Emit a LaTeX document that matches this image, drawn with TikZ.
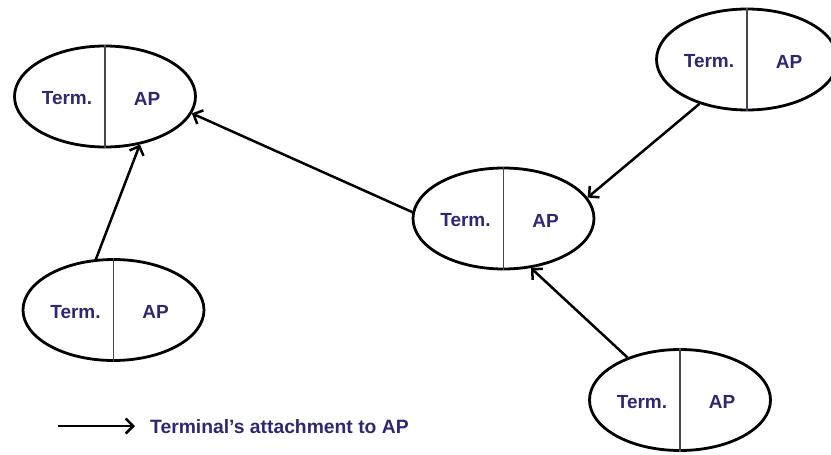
\documentclass[tikz,border=0pt]{standalone}
\usepackage{fontspec}
\setmainfont{Liberation Sans}
\usetikzlibrary{shapes.geometric,arrows.meta}
\definecolor{navy}{RGB}{46,40,110}
\definecolor{divgray}{RGB}{70,70,85}
\begin{document}
\begin{tikzpicture}[x=1pt,y=-1pt,
  cell/.style={ellipse, draw, line width=2.8pt, minimum width=181pt, minimum height=101pt, inner sep=0pt},
  lbl/.style={text=navy, font=\bfseries\fontsize{19}{21}\selectfont, inner sep=0pt},
  divline/.style={draw=divgray, line width=1.3pt},
  link/.style={-{Straight Barb[length=7.5pt,width=15pt]}, line width=2.5pt}]
\useasboundingbox (0,0) rectangle (831,455);
\clip (0,0) rectangle (831,455);
% cells
\node[cell] (tl) at (105,96.5) {};
\node[cell] (bl) at (113.5,310) {};
\node[cell] (mid) at (503.5,218.5) {};
\node[cell] (tr) at (747,59.5) {};
\node[cell] (br) at (680,400) {};
% dividers and labels
\foreach \n in {tl,bl,mid,tr,br}{
  \draw[divline] (\n.north) -- (\n.south);
  \node[lbl] (\n T) at ([xshift=-38pt,yshift=-2pt]\n.center) {Term.};
  \node[lbl] (\n A) at ([xshift=42pt,yshift=-2pt]\n.center) {AP};
}
% links
\draw[link] (bl.109) -- (tl.-54);
\draw[link] (mid.176) -- (tl.-11);
\draw[link] (tr.223) -- (mid.14);
\draw[link] (br.141) -- (mid.-61);
% legend
\coordinate (la) at (58,426);
\coordinate (lb) at (135,426);
\draw[link] (la) -- (lb);
\node[lbl, anchor=west, font=\bfseries\fontsize{19.3}{21}\selectfont] (leg) at (150,426.5) {Terminal’s attachment to AP};
\end{tikzpicture}
\end{document}
